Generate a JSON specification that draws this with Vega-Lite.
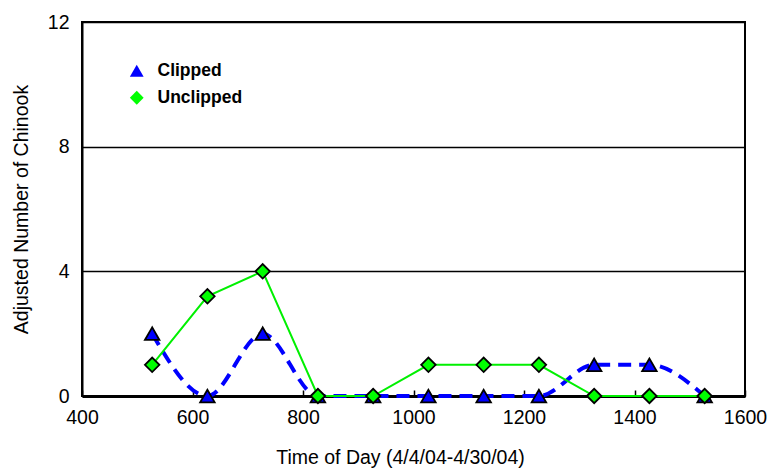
{
  "$schema": "https://vega.github.io/schema/vega-lite/v6.json",
  "autosize": "none",
  "width": 663,
  "height": 374,
  "padding": {"left": 82, "top": 22, "right": 31, "bottom": 76},
  "background": "white",
  "config": {
    "font": "Liberation Sans",
    "view": {"stroke": "black", "strokeWidth": 2},
    "axis": {
      "labelFont": "Liberation Sans",
      "titleFont": "Liberation Sans",
      "labelFontSize": 19.5,
      "titleFontSize": 19.5,
      "labelColor": "black",
      "titleColor": "black",
      "titleFontWeight": "normal",
      "domainColor": "black",
      "tickColor": "black",
      "gridColor": "black"
    }
  },
  "data": {
    "values": [
      {"time": 527, "count": 2, "series": "Clipped"},
      {"time": 627, "count": 0, "series": "Clipped"},
      {"time": 727, "count": 2, "series": "Clipped"},
      {"time": 827, "count": 0, "series": "Clipped"},
      {"time": 927, "count": 0, "series": "Clipped"},
      {"time": 1027, "count": 0, "series": "Clipped"},
      {"time": 1127, "count": 0, "series": "Clipped"},
      {"time": 1227, "count": 0, "series": "Clipped"},
      {"time": 1327, "count": 1, "series": "Clipped"},
      {"time": 1427, "count": 1, "series": "Clipped"},
      {"time": 1527, "count": 0, "series": "Clipped"},
      {"time": 527, "count": 1, "series": "Unclipped"},
      {"time": 627, "count": 3.2, "series": "Unclipped"},
      {"time": 727, "count": 4, "series": "Unclipped"},
      {"time": 827, "count": 0, "series": "Unclipped"},
      {"time": 927, "count": 0, "series": "Unclipped"},
      {"time": 1027, "count": 1, "series": "Unclipped"},
      {"time": 1127, "count": 1, "series": "Unclipped"},
      {"time": 1227, "count": 1, "series": "Unclipped"},
      {"time": 1327, "count": 0, "series": "Unclipped"},
      {"time": 1427, "count": 0, "series": "Unclipped"},
      {"time": 1527, "count": 0, "series": "Unclipped"}
    ]
  },
  "encoding": {
    "x": {
      "field": "time", "type": "quantitative",
      "scale": {"domain": [400, 1600], "nice": false},
      "axis": {
        "title": "Time of Day (4/4/04-4/30/04)",
        "values": [400, 600, 800, 1000, 1200, 1400, 1600],
        "format": "d",
        "labelFlush": false,
        "grid": false,
        "domainWidth": 3,
        "tickSize": -6,
        "tickWidth": 1.5,
        "labelPadding": 18,
        "titlePadding": 22,
        "titleX": 318
      }
    },
    "y": {
      "field": "count", "type": "quantitative",
      "scale": {"domain": [0, 12], "nice": false},
      "axis": {
        "title": "Adjusted Number of Chinook",
        "values": [0, 4, 8, 12],
        "labelFlush": false,
        "grid": true,
        "gridWidth": 1.5,
        "domainWidth": 2,
        "ticks": false,
        "labelPadding": 13,
        "titlePadding": 16
      }
    }
  },
  "layer": [
    {
      "transform": [{"filter": "datum.series === 'Clipped'"}],
      "mark": {"type": "line", "color": "#0000FF", "strokeWidth": 4, "strokeDash": [13, 8], "interpolate": "monotone", "clip": false}
    },
    {
      "transform": [{"filter": "datum.series === 'Unclipped'"}],
      "mark": {"type": "line", "color": "#00F000", "strokeWidth": 2, "clip": false}
    },
    {
      "mark": {"type": "point", "filled": true, "stroke": "black", "strokeWidth": 1.8, "size": 210, "opacity": 1, "clip": false},
      "encoding": {
        "shape": {
          "field": "series", "type": "nominal",
          "scale": {"domain": ["Clipped", "Unclipped"], "range": ["triangle-up", "diamond"]},
          "legend": {
            "title": null,
            "orient": "none",
            "legendX": 46,
            "legendY": 40,
            "labelFont": "Liberation Sans",
            "labelFontSize": 17.5,
            "labelFontWeight": "bold",
            "labelColor": "black",
            "symbolStrokeColor": "black",
            "symbolStrokeWidth": 1.8,
            "symbolSize": 190,
            "rowPadding": 6,
            "labelOffset": 12
          }
        },
        "fill": {
          "field": "series", "type": "nominal",
          "scale": {"domain": ["Clipped", "Unclipped"], "range": ["#0000FF", "#00FF00"]},
          "legend": {
            "title": null,
            "orient": "none",
            "legendX": 46,
            "legendY": 40,
            "labelFont": "Liberation Sans",
            "labelFontSize": 17.5,
            "labelFontWeight": "bold",
            "labelColor": "black",
            "symbolStrokeColor": "black",
            "symbolStrokeWidth": 1.8,
            "symbolSize": 190,
            "rowPadding": 6,
            "labelOffset": 12
          }
        }
      }
    }
  ]
}
